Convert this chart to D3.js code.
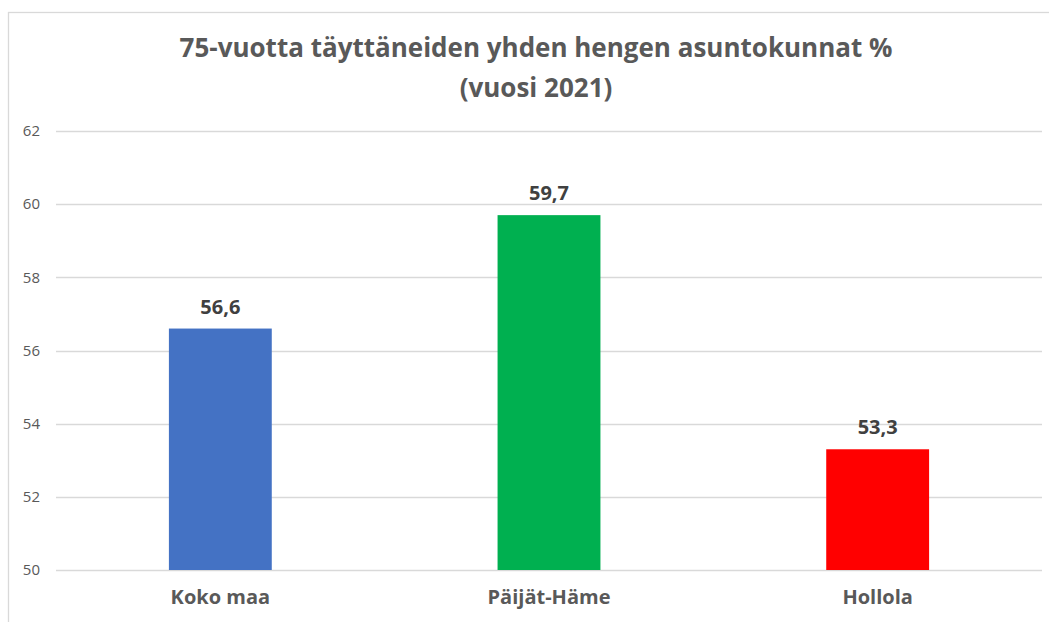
<!DOCTYPE html>
<html>
<head>
<meta charset="utf-8">
<script src="https://cdn.jsdelivr.net/npm/d3@7"></script>
<style>
  body { margin: 0; background: #fff; }
  svg { display: block; font-family: "Open Sans", sans-serif; }
</style>
</head>
<body>
<div id="chart"></div>
<script>
// data
var categories = ["Koko maa", "Päijät-Häme", "Hollola"];
var values = [56.6, 59.7, 53.3];
var colors = ["#4472C4", "#00B050", "#FF0000"];
var yTicks = [50, 52, 54, 56, 58, 60, 62];
var titleLines = ["75-vuotta täyttäneiden yhden hengen asuntokunnat %", "(vuosi 2021)"];

var W = 1049, H = 622;
var margin = {top: 131, right: 7, bottom: 52, left: 56},
    width = W - margin.left - margin.right,
    height = H - margin.top - margin.bottom;

var root = d3.select("#chart").append("svg")
    .attr("width", W)
    .attr("height", H);

// chart border (runs past the right and bottom edges)
root.append("rect")
    .attr("x", 8.5).attr("y", 12.5)
    .attr("width", W + 10).attr("height", H + 10)
    .attr("fill", "none")
    .attr("stroke", "#d9d9d9")
    .attr("stroke-width", 1.3);

// title
root.append("g").selectAll("text")
    .data(titleLines)
    .enter().append("text")
      .attr("x", 536)
      .attr("y", function(d, i) { return 57 + i * 40; })
      .attr("text-anchor", "middle")
      .style("font-size", "26px")
      .style("font-weight", "bold")
      .style("fill", "#595959")
      .text(function(d) { return d; });

var svg = root.append("g")
    .attr("transform", "translate(" + margin.left + "," + margin.top + ")");

var x = d3.scaleBand()
    .domain(categories)
    .range([0, width])
    .padding(0);

var y = d3.scaleLinear()
    .domain([50, 62])
    .range([height, 0]);

// gridlines
svg.append("g")
    .selectAll("line")
    .data(yTicks)
    .enter().append("line")
      .attr("x1", 0)
      .attr("x2", width)
      .attr("y1", function(d) { return Math.round(y(d)) + 0.5; })
      .attr("y2", function(d) { return Math.round(y(d)) + 0.5; })
      .attr("stroke", "#d9d9d9")
      .attr("stroke-width", 1.3);

// y axis labels
var yAxis = svg.append("g")
    .call(d3.axisLeft(y).tickValues(yTicks).tickSize(0).tickPadding(16));
yAxis.select(".domain").remove();
yAxis.selectAll("text")
    .style("font-family", "'Open Sans', sans-serif")
    .style("font-size", "15px")
    .style("fill", "#595959");

// bars
var barW = x.bandwidth() * 0.313;
svg.append("g")
    .selectAll("rect")
    .data(values)
    .enter().append("rect")
      .attr("x", function(d, i) { return x(categories[i]) + (x.bandwidth() - barW) / 2; })
      .attr("y", function(d) { return y(d); })
      .attr("width", barW)
      .attr("height", function(d) { return y(50) - y(d); })
      .attr("fill", function(d, i) { return colors[i]; });

// value labels
svg.append("g")
    .selectAll("text")
    .data(values)
    .enter().append("text")
      .attr("x", function(d, i) { return x(categories[i]) + x.bandwidth() / 2; })
      .attr("y", function(d) { return y(d) - 15; })
      .attr("text-anchor", "middle")
      .style("font-size", "20px")
      .style("font-weight", "bold")
      .style("fill", "#404040")
      .text(function(d) { return d3.format(".1f")(d).replace(".", ","); });

// category axis
var xAxis = svg.append("g")
    .attr("transform", "translate(0," + height + ")")
    .call(d3.axisBottom(x).tickSize(0).tickPadding(20));
xAxis.select(".domain").remove();
xAxis.selectAll("text")
    .style("font-family", "'Open Sans', sans-serif")
    .style("font-size", "20px")
    .style("font-weight", "bold")
    .style("fill", "#595959");
</script>
</body>
</html>
